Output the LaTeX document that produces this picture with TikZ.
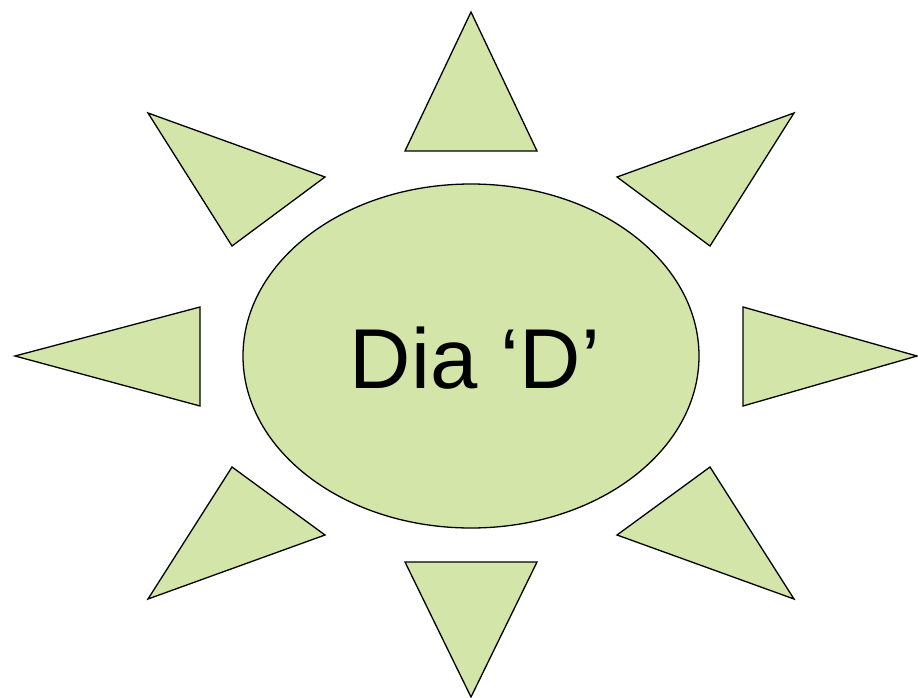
\documentclass[tikz,border=0pt]{standalone}
\usepackage{fontspec}
\setmainfont{Liberation Sans}
\definecolor{sungreen}{RGB}{211,229,168}
\begin{document}
\begin{tikzpicture}[x=1pt,y=-1pt,
  ray/.style={fill=sungreen,draw=black,line width=1.3pt,line join=miter},
  core/.style={ellipse,fill=sungreen,draw=black,line width=1.3pt}]
\useasboundingbox (0,0) rectangle (918,698);
\fill[sungreen,draw=black,line width=1.3pt] (471,356) ellipse [x radius=228, y radius=172];
\node[inner sep=0pt,anchor=base,font=\fontsize{85}{90}\selectfont] (lbl) at (475,388) {Dia ‘D’};
% top / bottom
\draw[ray] (471,12) -- (537,151) -- (405,151) -- cycle;
\draw[ray] (471,697) -- (537,562) -- (405,562) -- cycle;
% left / right
\draw[ray] (15,356) -- (200,307) -- (200,406) -- cycle;
\draw[ray] (917,356) -- (743,307) -- (743,406) -- cycle;
% diagonals
\draw[ray] (148,113) -- (325,177) -- (232,246) -- cycle;
\draw[ray] (794,113) -- (617,177) -- (710,246) -- cycle;
\draw[ray] (148,599) -- (325,535) -- (232,467) -- cycle;
\draw[ray] (794,599) -- (617,535) -- (710,467) -- cycle;
\end{tikzpicture}
\end{document}
